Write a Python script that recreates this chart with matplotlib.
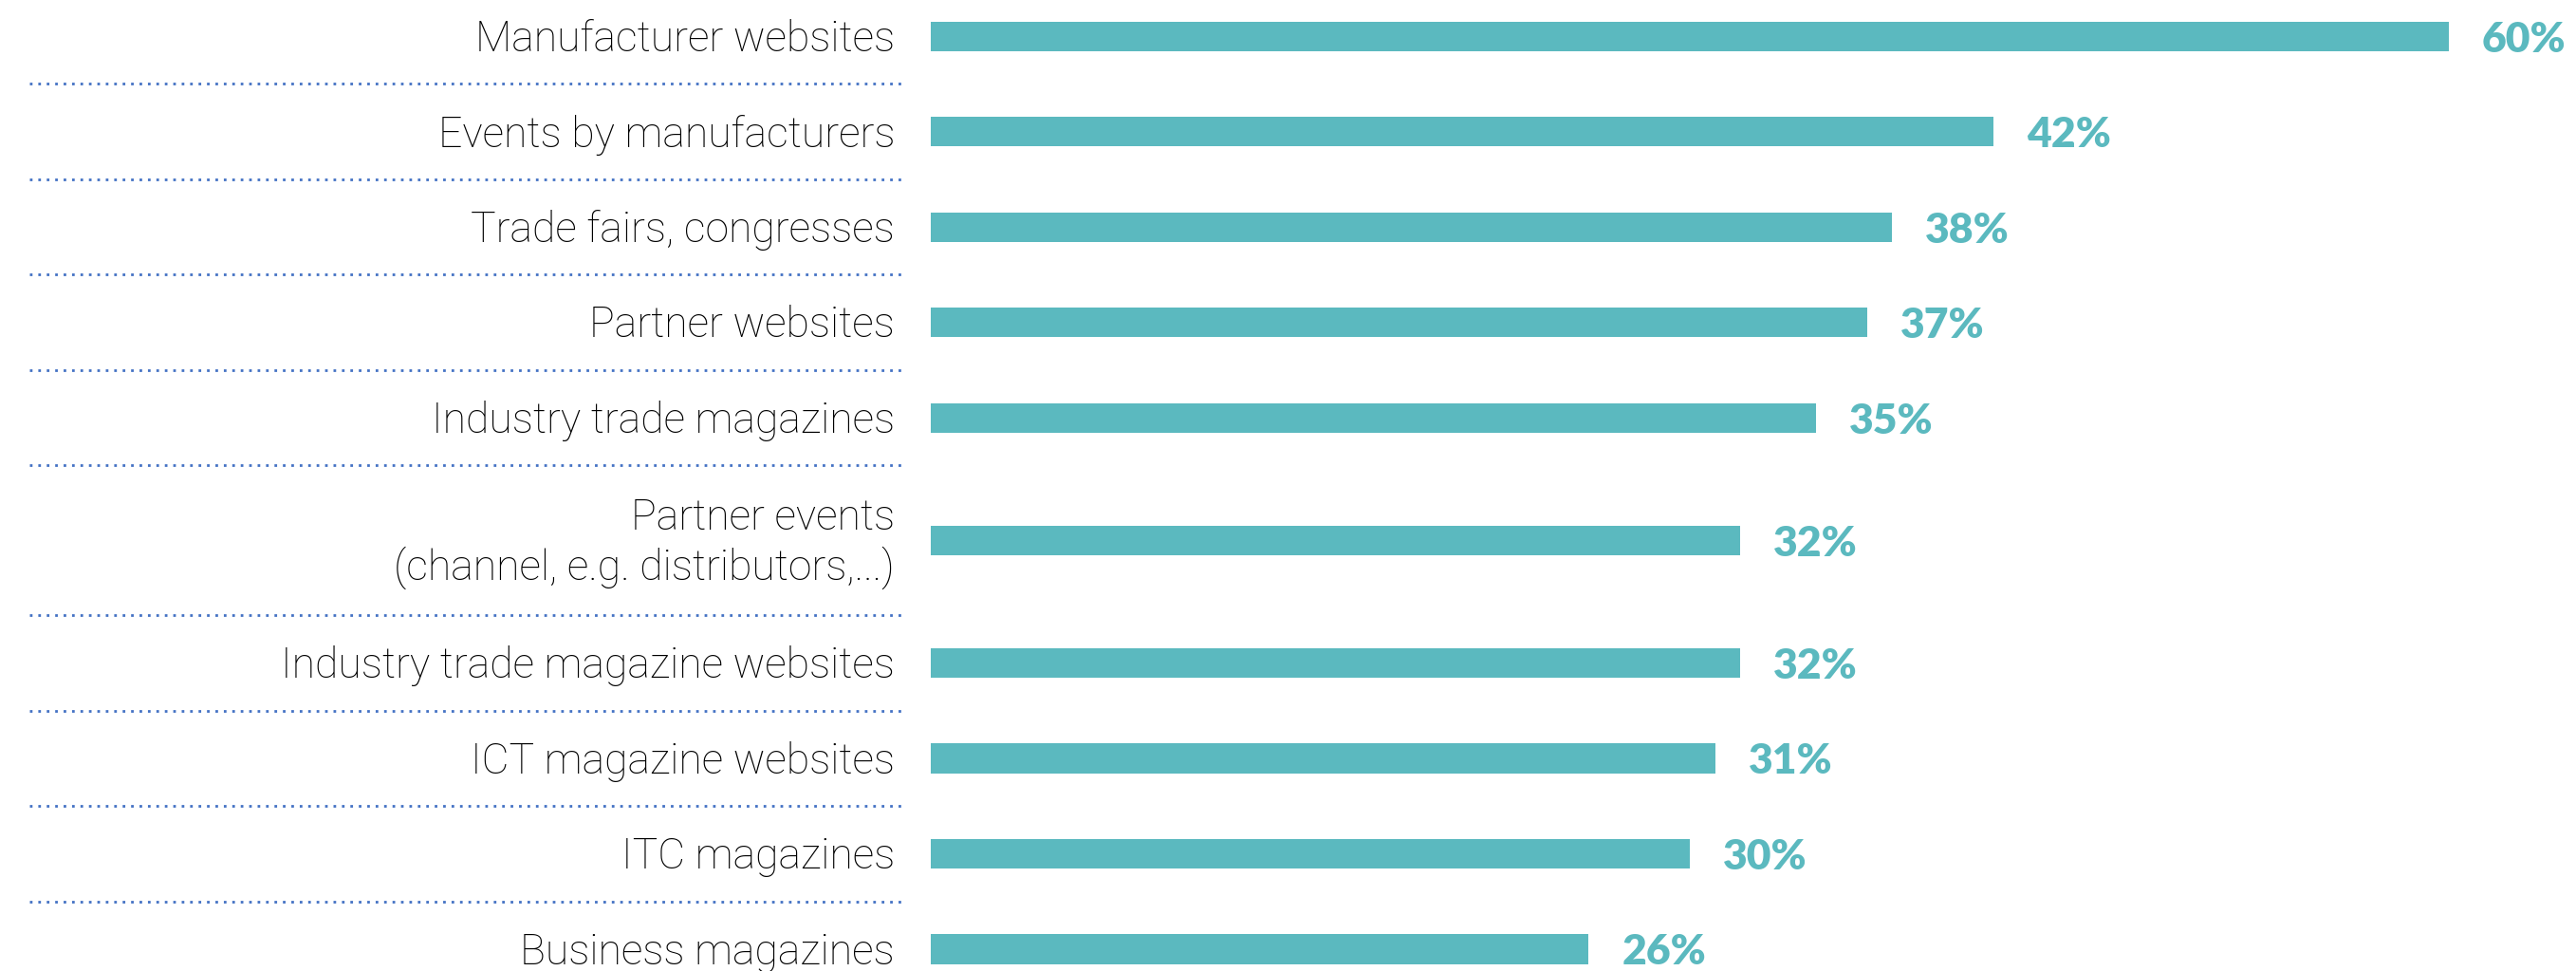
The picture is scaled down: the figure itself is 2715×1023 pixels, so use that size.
import matplotlib
matplotlib.use('Agg')
import matplotlib.pyplot as plt
import matplotlib.transforms as mtransforms
import numpy as np

categories = ['Manufacturer websites', 'Events by manufacturers', 'Trade fairs, congresses',
              'Partner websites', 'Industry trade magazines',
              'Partner events\n(channel, e.g. distributors,...)',
              'Industry trade magazine websites', 'ICT magazine websites',
              'ITC magazines', 'Business magazines']
values = [60, 42, 38, 37, 35, 32, 32, 31, 30, 26]

teal = '#5bb9bf'
dotblue = '#4472c4'

W, H = 2715, 1023
fig = plt.figure(figsize=(W / 100, H / 100), dpi=100)
# axes: x=0 at pixel 981, 60% at pixel 2581
left_px = 981
px_per_pct = (2581 - 981) / 60
ax = fig.add_axes([left_px / W, 0, 1 - left_px / W, 1])
ax.set_xlim(0, (W - left_px) / px_per_pct)
unit = 100.5
ax.set_ylim(H / unit, 0)

# row heights (two-line label gets a taller row)
heights = np.array([1.57 if '\n' in c else 1.0 for c in categories])
starts = -0.12 + np.concatenate([[0], np.cumsum(heights)[:-1]])
centers = starts + heights / 2

ax.barh(centers, values, height=0.31, color=teal, edgecolor='none')

# small downward nudge so text sits level with the bars
dy = 0.035
for y, v in zip(centers, values):
    ax.text(v + 35 / px_per_pct, y + dy, f'{v}%', va='center', ha='left',
            color=teal, fontsize=32, fontweight='heavy', family='Lato')

for y, c in zip(centers, categories):
    ax.text(-38 / px_per_pct, y + dy, c, va='center', ha='right', color='#000000',
            fontsize=32, family='Roboto', fontweight='light', linespacing=1.25)

# dotted separators under the labels
trans = mtransforms.blended_transform_factory(fig.transFigure, ax.transData)
for b in (starts + heights)[:-1]:
    ax.plot([31 / W, 952 / W], [b, b], transform=trans, clip_on=False,
            color=dotblue, linestyle=(0, (1, 2.2)), linewidth=2)

ax.axis('off')
fig.savefig('out.png', dpi=100)
